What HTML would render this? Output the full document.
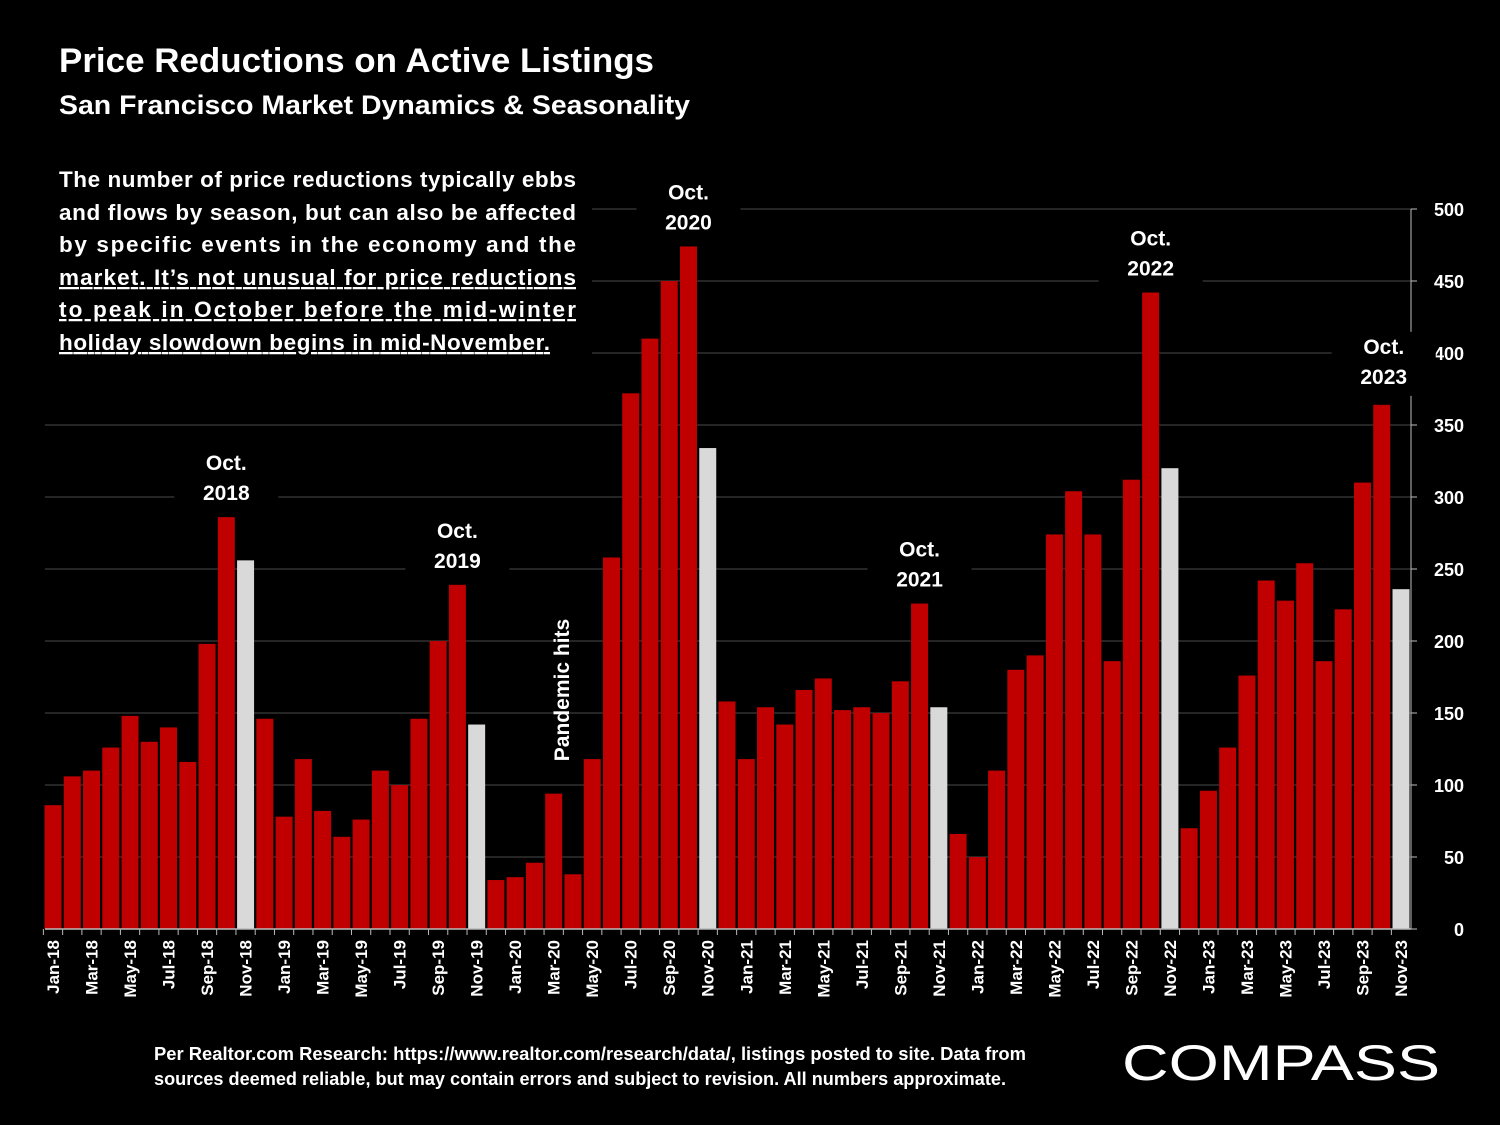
<!DOCTYPE html>
<html><head><meta charset="utf-8"><style>
body{margin:0;background:#000;width:1500px;height:1125px;overflow:hidden;font-family:"Liberation Sans",sans-serif;color:#fff}
</style></head><body>
<svg width="1500" height="1125" xmlns="http://www.w3.org/2000/svg" style="position:absolute;left:0;top:0">
<rect width="1500" height="1125" fill="#000"/>
<g id="grid"></g><g id="bars"></g><g id="axes"></g><g id="overlays"></g>
<text x="59" y="72" font-size="34" font-weight="bold" fill="#fff" textLength="595" lengthAdjust="spacingAndGlyphs">Price Reductions on Active Listings</text>
<text x="59" y="114" font-size="27" font-weight="bold" fill="#fff" textLength="631" lengthAdjust="spacingAndGlyphs">San Francisco Market Dynamics &amp; Seasonality</text>
<g font-size="22.5" font-weight="bold" fill="#fff">
<text x="59" y="187" textLength="517" lengthAdjust="spacing">The number of price reductions typically ebbs</text>
<text x="59" y="220" textLength="517" lengthAdjust="spacing">and flows by season, but can also be affected</text>
<text x="59" y="252" textLength="517" lengthAdjust="spacing">by specific events in the economy and the</text>
<text x="59" y="285" textLength="517" lengthAdjust="spacing" text-decoration="underline">market. It’s not unusual for price reductions</text>
<text x="59" y="317" textLength="517" lengthAdjust="spacing" text-decoration="underline">to peak in October before the mid-winter</text>
<text x="59" y="350" textLength="491" lengthAdjust="spacing" text-decoration="underline">holiday slowdown begins in mid-November.</text>
</g>
<text x="569" y="690" font-size="21" font-weight="bold" fill="#fff" text-anchor="middle" transform="rotate(-90 569 690)">Pandemic hits</text>
<g font-size="18" font-weight="bold" fill="#fff" text-anchor="middle">
<text x="590" y="1060" textLength="872" lengthAdjust="spacingAndGlyphs">Per Realtor.com Research:  https://www.realtor.com/research/data/, listings posted to site. Data from</text>
<text x="580" y="1085" textLength="852" lengthAdjust="spacingAndGlyphs">sources deemed reliable, but may contain errors and subject to revision. All numbers approximate.</text>
</g>
<text x="1122" y="1080" font-size="50" fill="#fff" textLength="318" lengthAdjust="spacingAndGlyphs">COMPASS</text>
</svg>
<script>
const months=["Jan","Feb","Mar","Apr","May","Jun","Jul","Aug","Sep","Oct","Nov","Dec"];
const categories=[];
for(let y=18;y<=23;y++)for(let m=0;m<12;m++){if(y===23&&m>10)break;categories.push(months[m]+"-"+y);}
const values=[86,106,110,126,148,130,140,116,198,286,256,146,
78,118,82,64,76,110,100,146,200,239,142,34,
36,46,94,38,118,258,372,410,450,474,334,158,
118,154,142,166,174,152,154,150,172,226,154,66,
50,110,180,190,274,304,274,186,312,442,320,70,
96,126,176,242,228,254,186,222,310,364,236];
const yTicks=[0,50,100,150,200,250,300,350,400,450,500];
const annotations=[["Oct.","2018",9],["Oct.","2019",21],["Oct.","2020",33],["Oct.","2021",45],["Oct.","2022",57],["Oct.","2023",69]];
const NS="http://www.w3.org/2000/svg";
const y0=929,yScale=720/500,x0=53,dx=(1401-53)/70;
const Y=v=>y0-v*yScale, X=i=>x0+i*dx;
function el(t,a,p){const e=document.createElementNS(NS,t);for(const k in a)e.setAttribute(k,a[k]);p.appendChild(e);return e;}
const grid=document.getElementById('grid'),bars=document.getElementById('bars'),axes=document.getElementById('axes'),ov=document.getElementById('overlays');
yTicks.forEach(v=>{
 if(v>0){const g=el('line',{x1:45,x2:1411,y1:Y(v),y2:Y(v),stroke:'#4a4a4a','stroke-width':1},grid);
 
 }
 el('line',{x1:1411,x2:1417,y1:Y(v),y2:Y(v),stroke:'#bbb'},axes);
 const t=el('text',{x:1464,y:Y(v)+7,'font-size':18,'font-weight':'bold',fill:'#fff','text-anchor':'end'},axes);
 t.textContent=v;
 
 
});
values.forEach((v,i)=>{
 const grey=categories[i].startsWith("Nov");
 const r=el('rect',{x:X(i)-8.5,y:Y(v),width:17,height:v*yScale,fill:grey?'#d9d9d9':'#c00000'},bars);
 
 
});
el('line',{x1:1411,x2:1411,y1:Y(500),y2:y0,stroke:'#bbb'},axes);
el('line',{x1:45,x2:1411,y1:y0,y2:y0,stroke:'#bbb','stroke-width':1.5},axes);
categories.forEach((c,i)=>{
 el('line',{x1:X(i)-dx/2,x2:X(i)-dx/2,y1:y0,y2:y0+6,stroke:'#bbb'},axes);
 if(i%2===0){const x=X(i)+6,y=940;
  const t=el('text',{x:x,y:y,'font-size':17,'font-weight':'bold',fill:'#fff','text-anchor':'end',transform:`rotate(-90 ${x} ${y})`},axes);
  t.textContent=c;
  
  }
});
el('rect',{x:40,y:160,width:552,height:200,fill:'#000'},ov);
annotations.forEach(a=>{
 const i=a[2];let x=X(i);const top=Y(values[i])-(i===69?51:47);
 if(i===69)x+=2;
 el('rect',{x:x-52,y:top-22,width:104,height:64,fill:'#000'},ov);
 const t1=el('text',{x:x,y:top,'font-size':21,'font-weight':'bold',fill:'#fff','text-anchor':'middle'},ov);
 t1.textContent=a[0];
 
 
 const t2=el('text',{x:x,y:top+30,'font-size':21,'font-weight':'bold',fill:'#fff','text-anchor':'middle'},ov);
 t2.textContent=a[1];
 
 
});
</script>
</body></html>
